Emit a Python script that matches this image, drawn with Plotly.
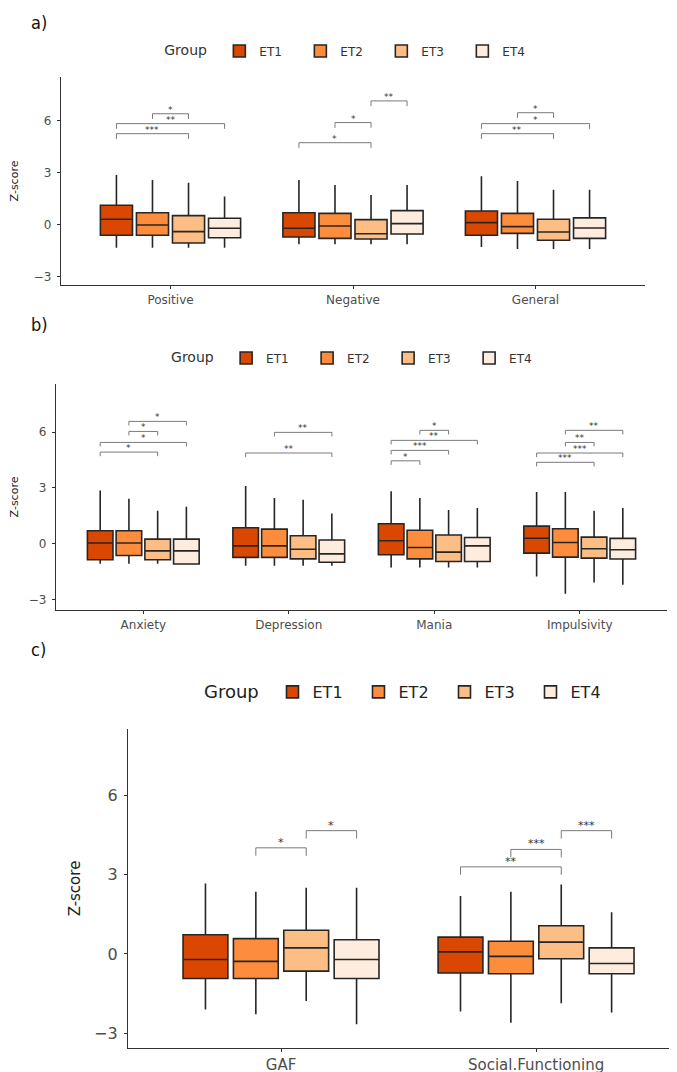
import plotly.graph_objects as go

# groups and colours (RColorBrewer "Oranges", 4 classes)
groups = ["ET1", "ET2", "ET3", "ET4"]
colors = ["#D94701", "#FD8D3C", "#FDBE85", "#FEEDDE"]

# ---- panel a: PANSS subscales ----
a_cats = ["Positive", "Negative", "General"]
# one row per group (ET1..ET4), one column per category
a_upper = [[2.85, 2.56, 2.77], [2.56, 2.27, 2.50], [2.40, 1.69, 2.00], [1.60, 2.27, 2.00]]
a_q3 = [[1.10, 0.67, 0.77], [0.67, 0.63, 0.63], [0.50, 0.27, 0.29], [0.35, 0.79, 0.37]]
a_med = [[0.29, -0.23, 0.10], [-0.04, -0.10, -0.13], [-0.42, -0.54, -0.44], [-0.23, 0.04, -0.21]]
a_q1 = [[-0.63, -0.73, -0.63], [-0.63, -0.81, -0.52], [-1.08, -0.85, -0.92], [-0.77, -0.56, -0.81]]
a_lower = [[-1.35, -1.15, -1.31], [-1.35, -1.15, -1.42], [-1.35, -1.15, -1.42], [-1.35, -1.15, -1.42]]
# (category, group i, group j, bracket height, label)
a_sig = [
    (0, 0, 2, 5.23, "***"), (0, 0, 3, 5.81, "**"), (0, 1, 2, 6.38, "*"),
    (1, 0, 2, 4.71, "*"), (1, 1, 2, 5.87, "*"), (1, 2, 3, 7.12, "**"),
    (2, 0, 2, 5.23, "**"), (2, 0, 3, 5.81, "*"), (2, 1, 2, 6.44, "*"),
]

# ---- panel b ----
b_cats = ["Anxiety", "Depression", "Mania", "Impulsivity"]
b_upper = [[2.87, 3.10, 2.83, 2.78], [2.42, 2.46, 2.46, 2.78], [1.77, 2.37, 1.81, 1.77], [1.99, 1.63, 1.92, 1.92]]
b_q3 = [[0.70, 0.86, 1.08, 0.95], [0.70, 0.79, 0.73, 0.81], [0.25, 0.43, 0.47, 0.36], [0.25, 0.20, 0.34, 0.29]]
b_med = [[0.04, -0.11, 0.16, 0.30], [0.04, -0.11, -0.20, 0.07], [-0.38, -0.29, -0.45, -0.27], [-0.38, -0.54, -0.11, -0.32]]
b_q1 = [[-0.86, -0.73, -0.59, -0.50], [-0.63, -0.73, -0.81, -0.72], [-0.86, -0.81, -0.95, -0.77], [-1.09, -0.99, -0.95, -0.82]]
b_lower = [[-1.08, -1.18, -1.27, -1.76], [-1.08, -1.18, -1.27, -2.69], [-1.08, -1.18, -1.27, -2.08], [-1.09, -1.18, -1.27, -2.20]]
b_sig = [
    (0, 0, 2, 4.93, "*"), (0, 0, 3, 5.45, "*"), (0, 1, 2, 6.04, "*"), (0, 1, 3, 6.58, "*"),
    (1, 0, 3, 4.88, "**"), (1, 1, 3, 5.99, "**"),
    (2, 0, 1, 4.46, "*"), (2, 0, 2, 5.02, "***"), (2, 0, 3, 5.56, "**"), (2, 1, 2, 6.10, "*"),
    (3, 0, 2, 4.38, "***"), (3, 0, 3, 4.88, "***"), (3, 1, 2, 5.45, "**"), (3, 1, 3, 6.10, "**"),
]

# ---- panel c ----
c_cats = ["GAF", "Social.Functioning"]
c_upper = [[2.67, 2.20], [2.36, 2.36], [2.51, 2.63], [2.51, 1.58]]
c_q3 = [[0.73, 0.64], [0.58, 0.48], [0.90, 1.07], [0.54, 0.23]]
c_med = [[-0.21, 0.08], [-0.28, -0.09], [0.23, 0.45], [-0.21, -0.36]]
c_q1 = [[-0.93, -0.72], [-0.93, -0.75], [-0.65, -0.18], [-0.93, -0.75]]
c_lower = [[-2.10, -2.18], [-2.28, -2.60], [-1.78, -1.87], [-2.66, -2.22]]
c_sig = [
    (0, 1, 2, 4.02, "*"), (0, 2, 3, 4.67, "*"),
    (1, 0, 2, 3.30, "**"), (1, 1, 2, 3.96, "***"), (1, 2, 3, 4.67, "***"),
]

BOXGAP = 0.21
GROUPGAP = 0.11
H = 1072.0
FONT = "DejaVu Sans, Liberation Sans, sans-serif"


def py(y):
    return 1 - y / H


panels = [
    dict(cats=a_cats, up=a_upper, q3=a_q3, med=a_med, q1=a_q1, lo=a_lower, sig=a_sig,
         xd=[53 / 677, 637 / 677], yd=[py(277), py(69)], yr=[-3.5, 8.5], xr=None,
         leg="legend", fs=11, tip=0.3, lab="a)", laby=14, stand=14),
    dict(cats=b_cats, up=b_upper, q3=b_q3, med=b_med, q1=b_q1, lo=b_lower, sig=b_sig,
         xd=[48 / 677, 659 / 677], yd=[py(602), py(376)], yr=[-3.56, 8.59], xr=None,
         leg="legend2", fs=11, tip=0.22, lab="b)", laby=316, stand=14),
    dict(cats=c_cats, up=c_upper, q3=c_q3, med=c_med, q1=c_q1, lo=c_lower, sig=c_sig,
         xd=[120 / 677, 1.0], yd=[py(1040), py(721)], yr=[-3.56, 8.52], xr=[-0.6, 1.584],
         leg="legend3", fs=15, tip=0.3, lab="c)", laby=641, stand=9),
]

fig = go.Figure()
shapes = []
annotations = []
layout = {}

for p_i, p in enumerate(panels):
    n = "" if p_i == 0 else str(p_i + 1)
    xa, ya = "x" + n, "y" + n
    for g, name in enumerate(groups):
        fig.add_trace(go.Box(
            x=p["cats"], q1=p["q1"][g], median=p["med"][g], q3=p["q3"][g],
            lowerfence=p["lo"][g], upperfence=p["up"][g],
            name=name, legend=p["leg"],
            offsetgroup=name, alignmentgroup="panel" + n,
            fillcolor=colors[g], line=dict(color="#262626", width=1.6),
            whiskerwidth=0, boxpoints=False, xaxis=xa, yaxis=ya,
            hoverinfo="skip",
        ))

    # significance brackets
    w = (1 - BOXGAP) / 4
    for ci, g1, g2, h, txt in p["sig"]:
        x1 = ci + (g1 - 1.5) * w
        x2 = ci + (g2 - 1.5) * w
        path = "M %f,%f L %f,%f L %f,%f L %f,%f" % (x1, h - p["tip"], x1, h, x2, h, x2, h - p["tip"])
        shapes.append(dict(type="path", path=path, xref=xa, yref=ya,
                           line=dict(color="#7a7a7a", width=1)))
        annotations.append(dict(x=(x1 + x2) / 2, y=h, xref=xa, yref=ya, text=txt,
                                showarrow=False, yanchor="bottom", yshift=-3,
                                font=dict(size=9 if p["fs"] < 13 else 11, color="#333333")))

    # panel letter
    annotations.append(dict(x=22 / 677, y=py(p["laby"]), xref="paper", yref="paper",
                            text=p["lab"], showarrow=False, xanchor="left", yanchor="middle",
                            borderpad=0,
                            font=dict(family="DejaVu Sans Condensed, Liberation Sans Narrow, sans-serif",
                                      size=18, color="#111111")))

    axis_common = dict(showline=True, linecolor="#333333", linewidth=1.2, ticks="outside",
                       ticklen=3, tickcolor="#333333", showgrid=False, zeroline=False,
                       tickfont=dict(size=p["fs"] + 1, color="#4d4d4d", family=FONT),
                       automargin=False)
    xkey = "xaxis" + n
    ykey = "yaxis" + n
    xdict = dict(axis_common, domain=p["xd"], anchor=ya, type="category")
    if p_i == 2:
        xdict["tickfont"] = dict(size=15, color="#4d4d4d", family=FONT)
    if p["xr"] is not None:
        xdict["range"] = p["xr"]
    else:
        xdict["range"] = [-0.6, len(p["cats"]) - 0.4]
    layout[xkey] = xdict
    layout[ykey] = dict(axis_common, domain=p["yd"], anchor=xa, range=p["yr"],
                        tickvals=[-3, 0, 3, 6], ticklabelstandoff=3,
                        title=dict(text="Z-score", standoff=p["stand"],
                                   font=dict(size=p["fs"], color="#222222", family=FONT)))

leg_common = dict(orientation="h", xanchor="center", yanchor="middle", bgcolor="rgba(0,0,0,0)",
                  itemwidth=30, traceorder="normal", entrywidth=36, entrywidthmode="pixels")
layout["legend"] = dict(leg_common, x=0.51, y=py(43),
                        title=dict(text="Group ", side="left", font=dict(size=14, color="#333333", family=FONT)),
                        font=dict(size=12, color="#333333", family=FONT))
layout["legend2"] = dict(leg_common, x=0.52, y=py(350),
                         title=dict(text="Group ", side="left", font=dict(size=14, color="#333333", family=FONT)),
                         font=dict(size=12, color="#333333", family=FONT))
layout["legend3"] = dict(leg_common, x=0.593, y=py(684), entrywidth=41,
                         title=dict(text="Group ", side="left", font=dict(size=18, color="#222222", family=FONT)),
                         font=dict(size=16, color="#222222", family=FONT))

fig.update_layout(
    width=677, height=1072,
    margin=dict(l=0, r=0, t=0, b=0, autoexpand=False),
    paper_bgcolor="white", plot_bgcolor="white",
    boxmode="group", boxgap=BOXGAP, boxgroupgap=GROUPGAP,
    font=dict(family=FONT),
    shapes=shapes, annotations=annotations,
    **layout,
)

fig.write_html("out.html")
